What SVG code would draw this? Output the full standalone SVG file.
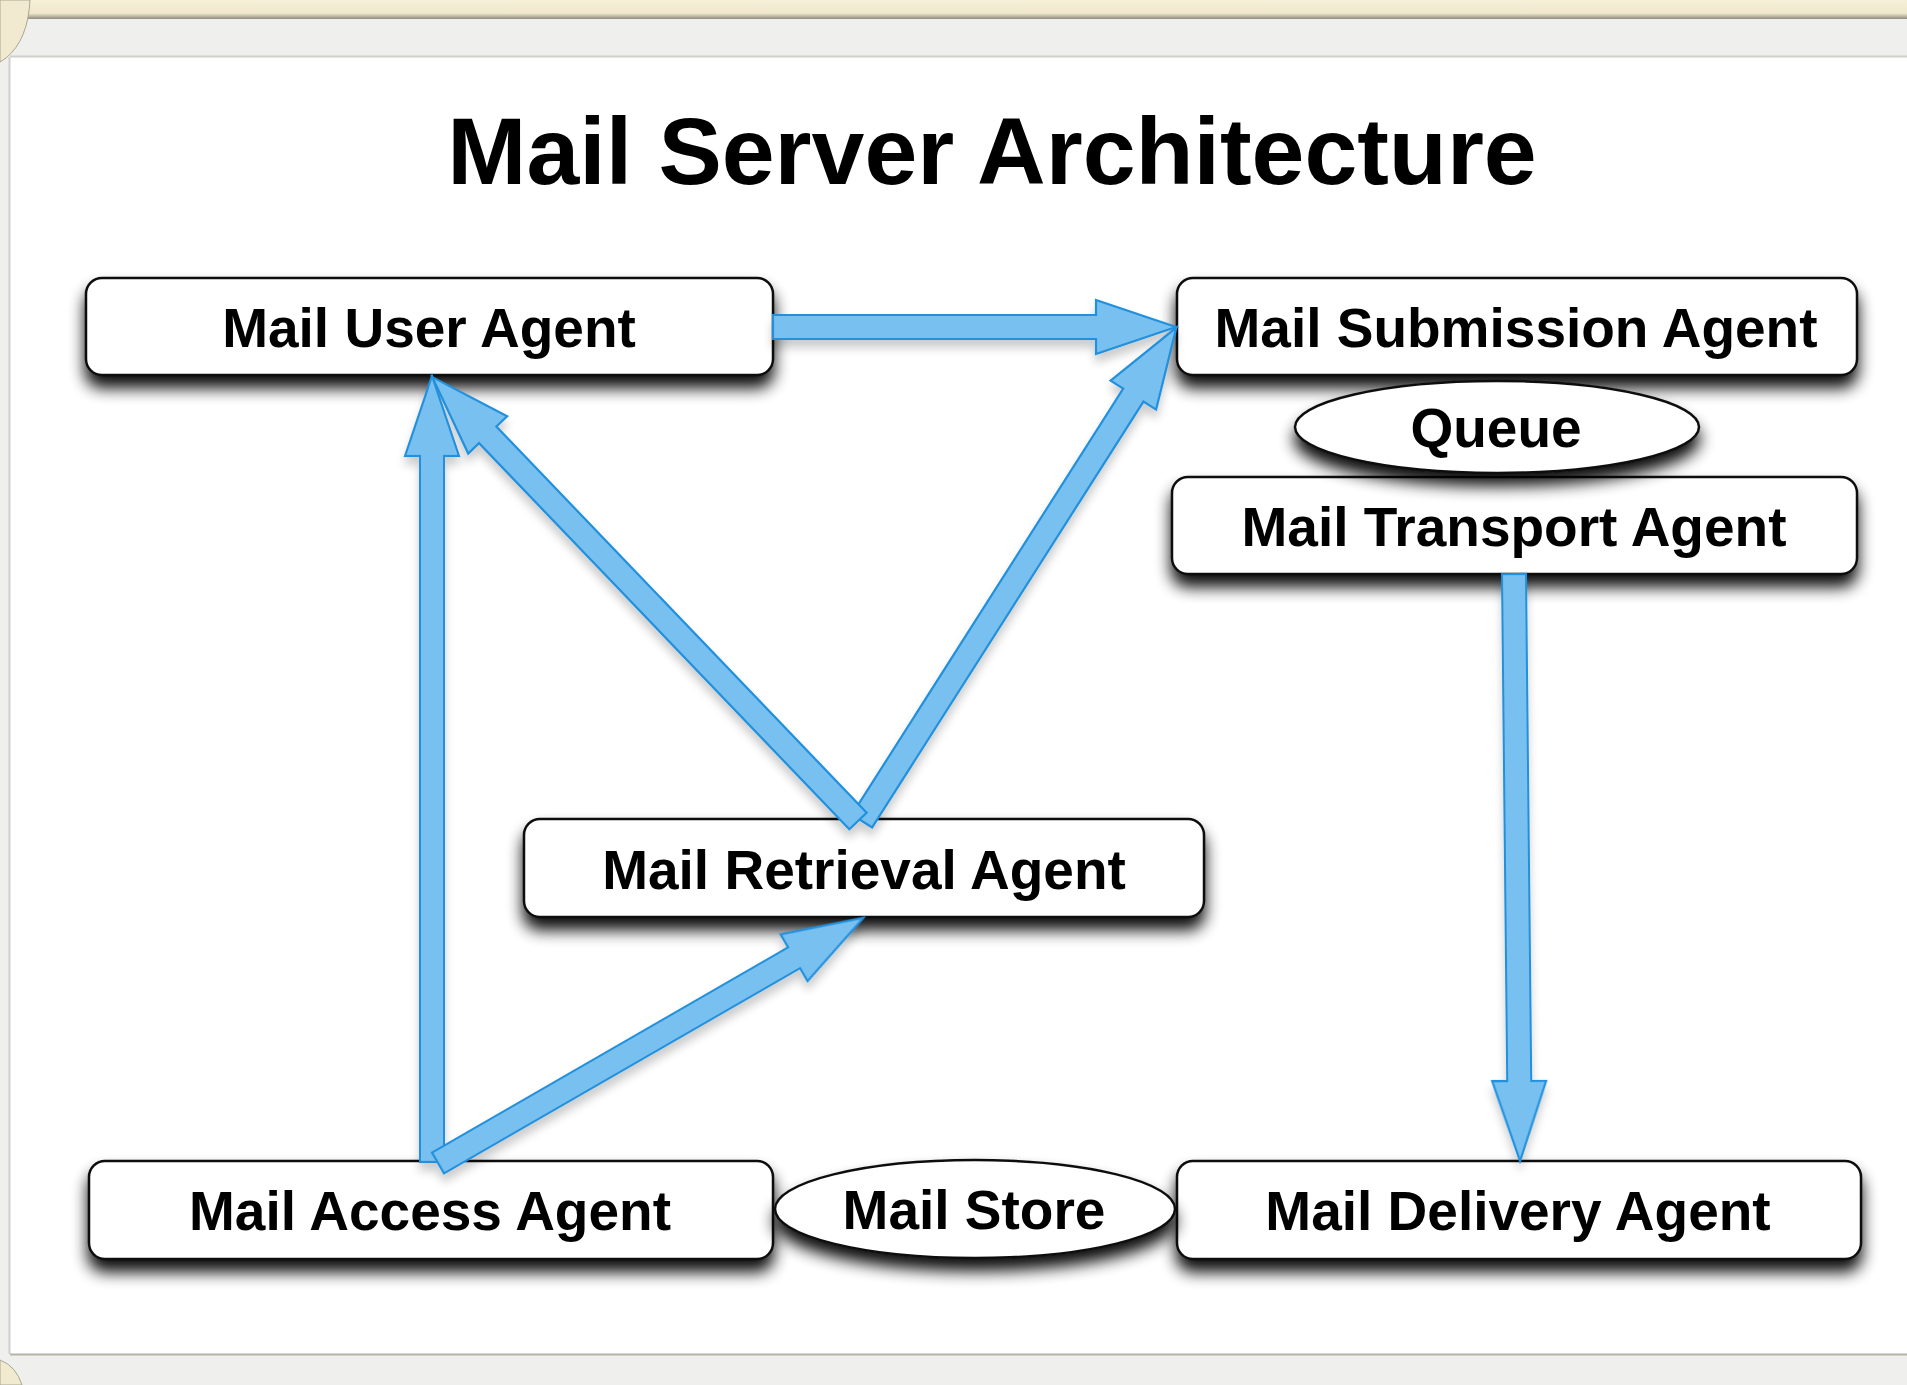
<svg xmlns="http://www.w3.org/2000/svg" width="1907" height="1385" viewBox="0 0 1907 1385">
<defs>
<linearGradient id="cream" x1="0" y1="0" x2="0" y2="1">
<stop offset="0" stop-color="#f6f0d8"/>
<stop offset="0.7" stop-color="#efe8cc"/>
<stop offset="1" stop-color="#8f8c80"/>
</linearGradient>
<filter id="sh" x="-10%" y="-30%" width="120%" height="190%">
<feGaussianBlur in="SourceAlpha" stdDeviation="8"/>
<feOffset dy="12" result="b"/>
<feComponentTransfer in="b" result="c"><feFuncA type="linear" slope="0.95"/></feComponentTransfer>
<feMerge><feMergeNode in="c"/><feMergeNode in="SourceGraphic"/></feMerge>
</filter>
<filter id="ash" x="-20%" y="-20%" width="140%" height="140%">
<feGaussianBlur in="SourceAlpha" stdDeviation="5"/>
<feOffset dy="8" result="b"/>
<feComponentTransfer in="b" result="c"><feFuncA type="linear" slope="0.2"/></feComponentTransfer>
<feMerge><feMergeNode in="c"/><feMergeNode in="SourceGraphic"/></feMerge>
</filter>
</defs>
<style>
.box{fill:#ffffff;stroke:#111111;stroke-width:2.5}
.lbl{font-family:"Liberation Sans",Arial,Helvetica,sans-serif;font-weight:bold;font-size:55px;fill:#000000;text-anchor:middle}
.title{font-family:"Liberation Sans",Arial,Helvetica,sans-serif;font-weight:bold;font-size:95px;fill:#000000;text-anchor:middle}
.arr{fill:#78c0ef;stroke:#2290dc;stroke-width:2.2;stroke-linejoin:miter}
</style>
<g id="frame">
<rect x="0" y="0" width="1907" height="1385" fill="#efefed"/>
<rect x="0" y="0" width="1907" height="19" fill="url(#cream)"/>
<rect x="10" y="57" width="1897" height="1297" fill="#ffffff"/>
<line x1="10" y1="56.5" x2="1907" y2="56.5" stroke="#cfcfcb" stroke-width="2"/>
<line x1="9.5" y1="57" x2="9.5" y2="1354" stroke="#d0d0cc" stroke-width="2"/>
<line x1="10" y1="1354.5" x2="1907" y2="1354.5" stroke="#b5b3a8" stroke-width="2"/>
<path d="M0,0 H30 Q28,40 6,58 L0,62 Z" fill="#f1ead0" stroke="#a9a690" stroke-width="1"/>
<path d="M0,1360 Q16,1366 22,1385 H0 Z" fill="#f1ead0" stroke="#a9a690" stroke-width="1"/>
</g>
<text id="title" class="title" x="992" y="184">Mail Server Architecture</text>
<g id="mua" filter="url(#sh)">
<rect class="box" x="86" y="278" width="687" height="97" rx="16"/>
<text class="lbl" x="429" y="347">Mail User Agent</text>
</g>
<g id="msa" filter="url(#sh)">
<rect class="box" x="1177" y="278" width="680" height="97" rx="16"/>
<text class="lbl" x="1516" y="347">Mail Submission Agent</text>
</g>
<g id="mta" filter="url(#sh)">
<rect class="box" x="1172" y="477" width="685" height="97" rx="16"/>
<text class="lbl" x="1514" y="546">Mail Transport Agent</text>
</g>
<g id="queue" filter="url(#sh)">
<ellipse class="box" cx="1497" cy="427" rx="202" ry="46"/>
<text class="lbl" x="1496" y="447">Queue</text>
</g>
<g id="mra" filter="url(#sh)">
<rect class="box" x="524" y="819" width="680" height="98" rx="16"/>
<text class="lbl" x="864" y="889">Mail Retrieval Agent</text>
</g>
<g id="maa" filter="url(#sh)">
<rect class="box" x="89" y="1161" width="684" height="98" rx="16"/>
<text class="lbl" x="430" y="1230">Mail Access Agent</text>
</g>
<g id="mda" filter="url(#sh)">
<rect class="box" x="1177" y="1161" width="684" height="98" rx="16"/>
<text class="lbl" x="1518" y="1230">Mail Delivery Agent</text>
</g>
<g id="store" filter="url(#sh)">
<ellipse class="box" cx="975" cy="1209" rx="200" ry="49"/>
<text class="lbl" x="974" y="1229">Mail Store</text>
</g>
<g id="connectors" filter="url(#ash)">
<path class="arr" transform="translate(773,327)" d="M0,-12 H323 V-27 L403,0 L323,27 V12 H0 Z"/>
<path class="arr" transform="translate(862,821) rotate(-57.5)" d="M0,-12 H505 V-27 L585,0 L505,27 V12 H0 Z"/>
<path class="arr" transform="translate(858,821) rotate(-133.8)" d="M0,-12 H535 V-27 L615,0 L535,27 V12 H0 Z"/>
<path class="arr" transform="translate(432,1162) rotate(-90)" d="M0,-12 H706 V-27 L786,0 L706,27 V12 H0 Z"/>
<path class="arr" transform="translate(438,1163) rotate(-29.96)" d="M0,-12 H411 V-27 L491,0 L411,27 V12 H0 Z"/>
<path class="arr" transform="translate(1514,574) rotate(89.41)" d="M0,-12 H507 V-27 L587,0 L507,27 V12 H0 Z"/>
</g>
</svg>
